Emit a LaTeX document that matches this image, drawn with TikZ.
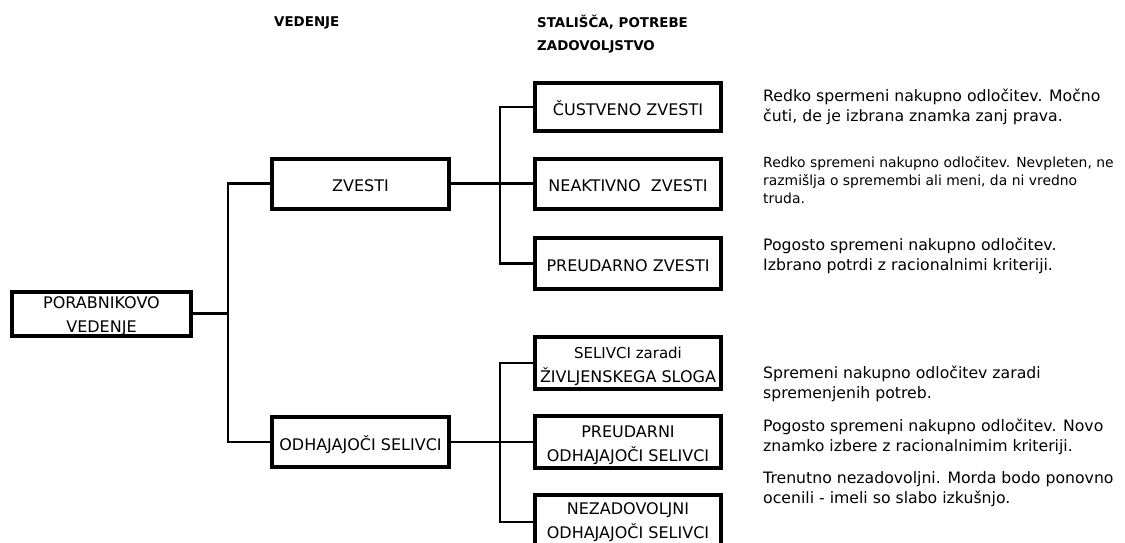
\documentclass[tikz,border=0pt]{standalone}
\usepackage{fontspec}
\setmainfont{DejaVu Sans}
\usetikzlibrary{
  chains,
  scopes,
  positioning
}

\begin{document}
\begin{tikzpicture}[x=1pt,y=-1pt,
      stagebox/.style={
         rectangle,
         draw=black,
         line width=4pt,
         inner sep=0pt,
         align=center,
         font=\fontsize{16}{24}\selectfont,
         text height=16.7pt,
         text depth=0pt
      },
      twoline/.style={text height=#1},
      twoline/.default=38.7pt,
      midbox/.style={stagebox, minimum width=177pt, minimum height=50pt},
      leafbox/.style={stagebox, minimum width=186pt, minimum height=#1},
      leafbox/.default=50pt,
      note/.style={
         anchor=west, inner sep=0pt, align=left,
         font=\fontsize{15.7}{20}\selectfont
      },
      smallnote/.style={note, font=\fontsize{13.9}{18}\selectfont},
      head/.style={
         anchor=west, inner sep=0pt, align=left,
         font=\bfseries\fontsize{13.4}{23}\selectfont
      },
      point/.style={coordinate},
      every join/.style={draw=black, line width=2.7pt},
      hv path/.style={to path={-| (\tikztotarget)}},
      vh path/.style={to path={|- (\tikztotarget)}}
    ]
    \useasboundingbox (0,0) rectangle (1125,542);
    % column headings
    \node (hvedenje) [head] at (274,23) {VEDENJE};
    \node (hstalisca) [head] at (537,34.5) {STALIŠČA, POTREBE\\ZADOVOLJSTVO};
    % boxes
    \node (root) [stagebox, twoline, minimum width=179pt, minimum height=44pt] at (101.5,313.5) {PORABNIKOVO\\VEDENJE};
    \node (zvesti) [midbox] at (360.5,183.5) {ZVESTI};
    \node (odh) [midbox] at (360.5,442) {ODHAJAJOČI SELIVCI};
    \node (cust) [leafbox=48pt] at (628,107) {ČUSTVENO ZVESTI};
    \node (neak) [leafbox=50pt] at (628,183.5) {NEAKTIVNO\ \ ZVESTI};
    \node (preud) [leafbox=51pt] at (628,263.5) {PREUDARNO ZVESTI};
    \node (sel) [leafbox=52pt, twoline] at (628,363) {\fontsize{15}{24}\selectfont SELIVCI zaradi\\ŽIVLJENSKEGA SLOGA};
    \node (predo) [leafbox=52pt, twoline] at (628,442) {PREUDARNI\\ODHAJAJOČI SELIVCI};
    \node (nez) [leafbox=54pt, twoline=33pt] at (628,522) {NEZADOVOLJNI\\ODHAJAJOČI SELIVCI};
    % branch points
    \node (p1) [point] at (228,313.5) {};
    \node (p2) [point] at (500,183.5) {};
    \node (p3) [point] at (500,442) {};
    % descriptions
    \node (dcust) [note] at (763,107) {Redko spermeni nakupno odločitev. Močno\\čuti, de je izbrana znamka zanj prava.};
    \node (dneak) [smallnote] at (763,180) {Redko spremeni nakupno odločitev. Nevpleten, ne\\razmišlja o spremembi ali meni, da ni vredno\\truda.};
    \node (dpreud) [note] at (763,255.5) {Pogosto spremeni nakupno odločitev.\\Izbrano potrdi z racionalnimi kriteriji.};
    \node (dsel) [note] at (763,384) {Spremeni nakupno odločitev zaradi\\spremenjenih potreb.};
    \node (dpredo) [note] at (763,437) {Pogosto spremeni nakupno odločitev. Novo\\znamko izbere z racionalnimim kriteriji.};
    \node (dnez) [note] at (763,489.5) {Trenutno nezadovoljni. Morda bodo ponovno\\ocenili - imeli so slabo izkušnjo.};
  { [start chain]
       \chainin (root);
       \chainin (p1)    [join];
  }
  { [start chain]
       \chainin (zvesti);
       \chainin (p1)    [join=by hv path];
       \chainin (odh)   [join=by vh path];
  }
  { [start chain]
       \chainin (zvesti);
       \chainin (p2)    [join];
       \chainin (neak)  [join];
  }
  { [start chain]
       \chainin (cust);
       \chainin (p2)    [join=by hv path];
       \chainin (preud) [join=by vh path];
  }
  { [start chain]
       \chainin (odh);
       \chainin (p3)    [join];
       \chainin (predo) [join];
  }
  { [start chain]
       \chainin (sel);
       \chainin (p3)    [join=by hv path];
       \chainin (nez)   [join=by vh path];
  }
\end{tikzpicture}
\end{document}
